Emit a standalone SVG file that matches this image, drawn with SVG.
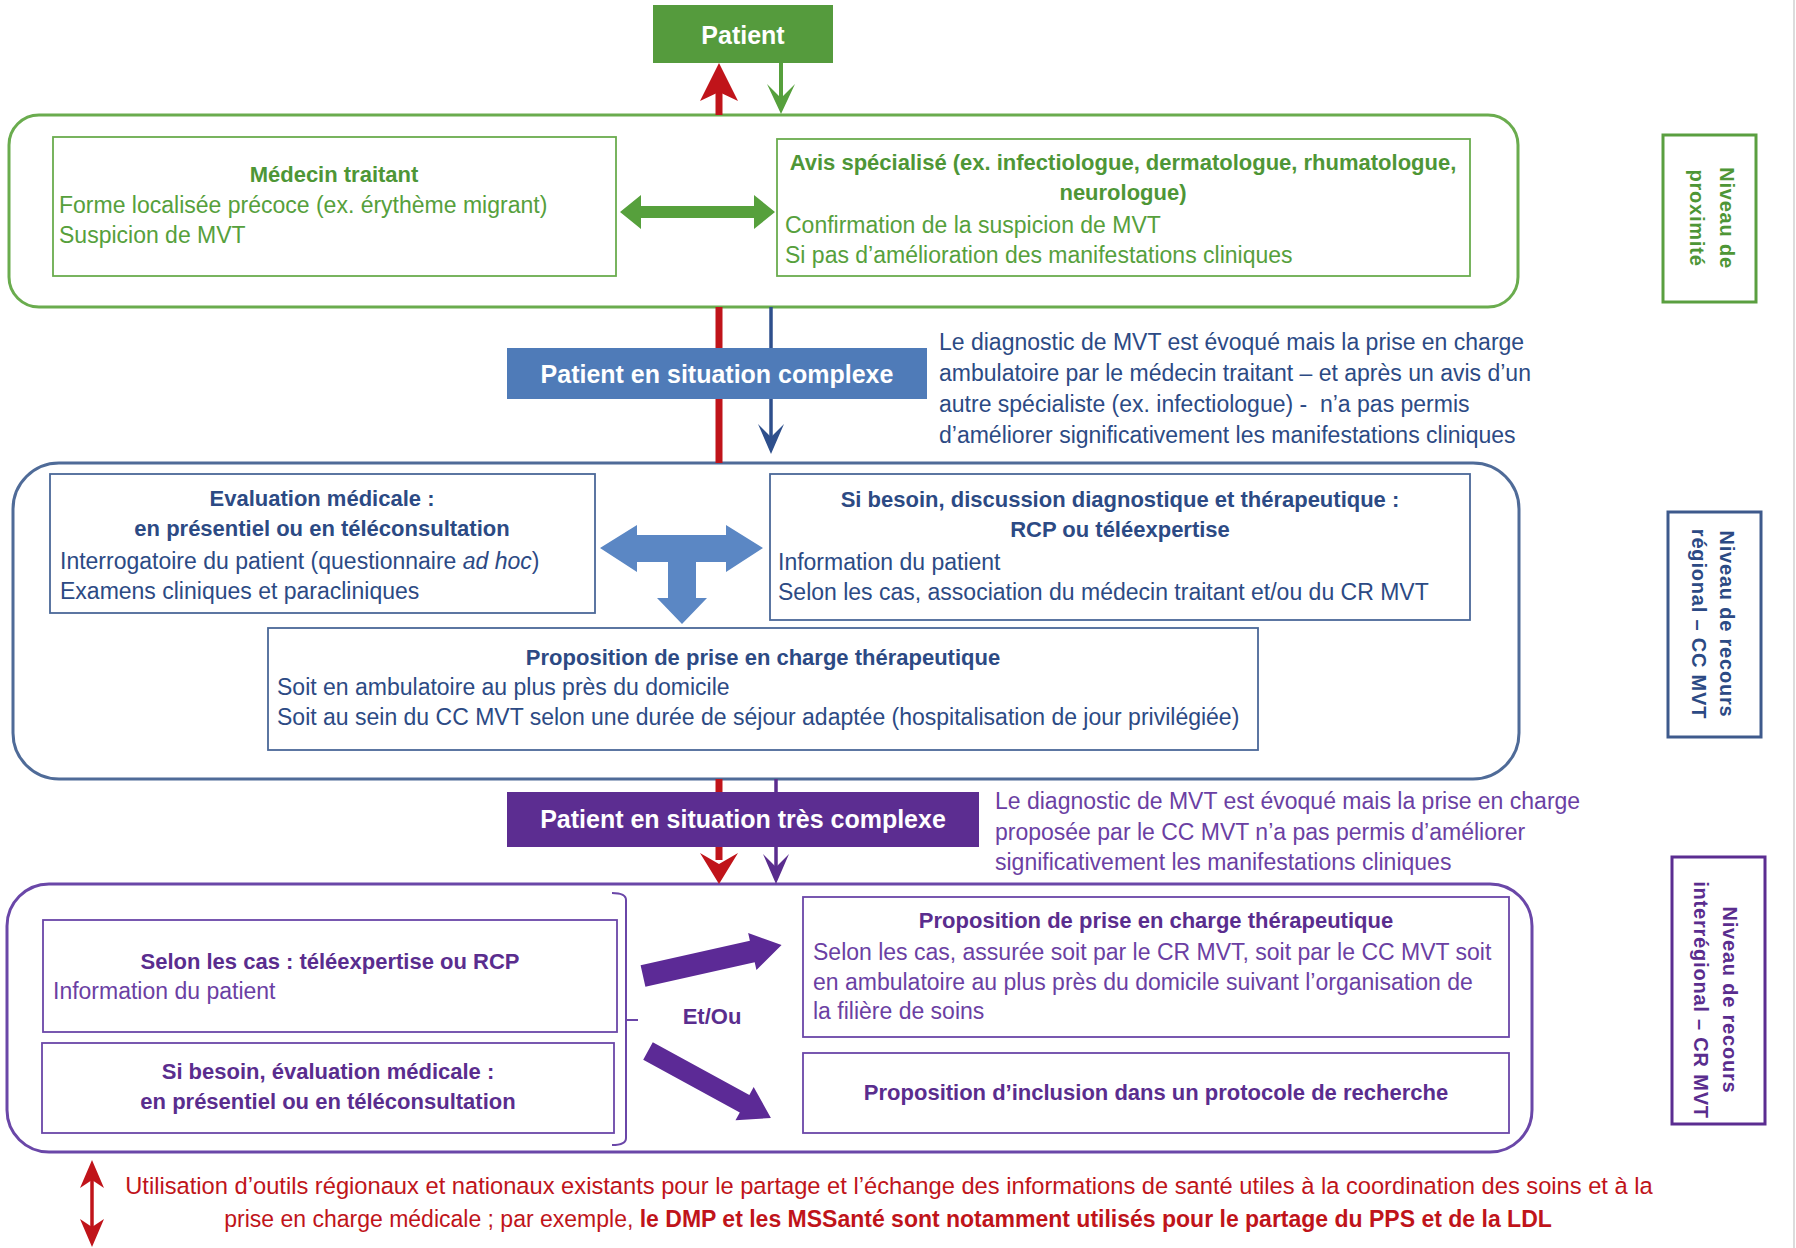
<svg xmlns="http://www.w3.org/2000/svg" width="1796" height="1248" viewBox="0 0 1796 1248">
<style>
text{font-family:"Liberation Sans",Arial,sans-serif}
.b{font-weight:bold}
.t22{font-size:22px}
.t23{font-size:23px}
.wt{font-size:25px;font-weight:bold;fill:#ffffff}
.g{fill:#56a03c}
.gb{fill:#4e9636}
.bl{fill:#2c4a84}
.pu{fill:#6b3fa3}
.pub{fill:#5a2d8e}
.rd{fill:#c0141a}
.mid{text-anchor:middle}
.gbox{fill:#ffffff;stroke:#6aac4e;stroke-width:1.8}
.bbox{fill:#ffffff;stroke:#4b6898;stroke-width:1.8}
.pbox{fill:#ffffff;stroke:#6a46a8;stroke-width:1.8}
.niv{font-size:20px;font-weight:bold;letter-spacing:0.8px}
</style>
<rect x="0" y="0" width="1796" height="1248" fill="#ffffff"/>
<line x1="1794" y1="0" x2="1794" y2="1248" stroke="#d0d0d0" stroke-width="1.5"/>

<!-- outer level frames -->
<g id="level-proximite">
<rect x="9" y="115" width="1509" height="192" rx="30" fill="#ffffff" stroke="#6aac4e" stroke-width="3"/>
</g>
<g id="level-regional">
<rect x="13" y="463" width="1506" height="316" rx="46" fill="#ffffff" stroke="#4f6b98" stroke-width="3"/>
</g>
<g id="level-interregional">
<rect x="7" y="884" width="1525" height="268" rx="42" fill="#ffffff" stroke="#6a47a8" stroke-width="3"/>
</g>

<!-- connectors -->
<g id="connectors">
<!-- red coordination line -->
<line x1="719" y1="115" x2="719" y2="92" stroke="#c0141a" stroke-width="7"/>
<polygon points="719,63 738,101 719,92 700,101" fill="#c0141a"/>
<line x1="719" y1="307" x2="719" y2="463" stroke="#c0141a" stroke-width="7"/>
<line x1="719" y1="779" x2="719" y2="860" stroke="#c0141a" stroke-width="7"/>
<polygon points="719,884 700,853 719,864 738,853" fill="#c0141a"/>
<!-- green arrow patient -> level 1 -->
<line x1="781" y1="63" x2="781" y2="100" stroke="#56a03c" stroke-width="4"/>
<polygon points="781,114 795,84 781,98 767,84" fill="#56a03c"/>
<!-- blue arrow -->
<line x1="771" y1="307" x2="771" y2="440" stroke="#2e4f8c" stroke-width="3.5"/>
<polygon points="771,454 784,424 771,437 758,424" fill="#2e4f8c"/>
<!-- purple arrow -->
<line x1="776" y1="779" x2="776" y2="868" stroke="#5a2d8e" stroke-width="3.5"/>
<polygon points="776,884 789,854 776,867 763,854" fill="#5a2d8e"/>
<!-- green double arrow -->
<polygon points="620,212 641,195 641,206 754,206 754,195 775,212 754,229 754,218 641,218 641,229" fill="#56a03c"/>
<!-- blue T arrow -->
<polygon points="600,548 637,525 637,535 726,535 726,525 763,548 726,572 726,562 696,562 696,598 707,598 682,624 657,598 668,598 668,562 637,562 637,572" fill="#5b87c4"/>
<!-- purple block arrows -->
<polygon transform="translate(643,976) rotate(-12.6)" points="0,-11 112,-11 112,-19 142,0 112,19 112,11 0,11" fill="#5c2a96"/>
<polygon transform="translate(648,1051) rotate(28.6)" points="0,-10 110,-10 110,-19 140,0 110,19 110,10 0,10" fill="#5c2a96"/>
<!-- bracket -->
<path d="M612,893 Q626,893 626,900 L626,1138 Q626,1145 612,1145 M626,1020 L638,1020" fill="none" stroke="#6a46a8" stroke-width="2"/>
<!-- bottom red double arrow -->
<line x1="92" y1="1178" x2="92" y2="1230" stroke="#c0141a" stroke-width="3.5"/>
<polygon points="92,1160 104,1188 92,1180 80,1188" fill="#c0141a"/>
<polygon points="92,1247 104,1219 92,1227 80,1219" fill="#c0141a"/>
</g>

<!-- Patient -->
<g id="patient">
<rect x="653" y="5" width="180" height="58" fill="#559b3d"/>
<text x="743" y="44" class="wt mid">Patient</text>
</g>

<!-- Level 1 nodes -->
<g id="medecin-traitant">
<rect x="53" y="137" width="563" height="139" class="gbox"/>
<text x="334" y="182" class="t22 b gb mid">Médecin traitant</text>
<text x="59" y="213" class="t23 g">Forme localisée précoce (ex. érythème migrant)</text>
<text x="59" y="243" class="t23 g">Suspicion de MVT</text>
</g>
<g id="avis-specialise">
<rect x="777" y="139" width="693" height="137" class="gbox"/>
<text x="1123" y="170" class="t22 b gb mid">Avis spécialisé (ex. infectiologue, dermatologue, rhumatologue,</text>
<text x="1123" y="200" class="t22 b gb mid">neurologue)</text>
<text x="785" y="233" class="t23 g">Confirmation de la suspicion de MVT</text>
<text x="785" y="263" class="t23 g">Si pas d’amélioration des manifestations cliniques</text>
</g>
<g id="niveau-proximite">
<rect x="1663" y="135" width="93" height="167" fill="#ffffff" stroke="#5a9f40" stroke-width="3"/>
<g transform="translate(1712,218) rotate(90)">
<text x="0" y="-8" class="niv gb mid">Niveau de</text>
<text x="0" y="22" class="niv gb mid">proximité</text>
</g>
</g>

<!-- complex situation -->
<g id="patient-complexe">
<rect x="507" y="348" width="420" height="51" fill="#4f7bb8"/>
<text x="717" y="383" class="wt mid">Patient en situation complexe</text>
</g>
<g id="note-complexe">
<text x="939" y="350" class="t23 bl">Le diagnostic de MVT est évoqué mais la prise en charge</text>
<text x="939" y="381" class="t23 bl">ambulatoire par le médecin traitant – et après un avis d’un</text>
<text x="939" y="412" class="t23 bl">autre spécialiste (ex. infectiologue) - &#160;n’a pas permis</text>
<text x="939" y="443" class="t23 bl">d’améliorer significativement les manifestations cliniques</text>
</g>

<!-- Level 2 nodes -->
<g id="evaluation-medicale">
<rect x="50" y="474" width="545" height="139" class="bbox"/>
<text x="322" y="506" class="t22 b bl mid">Evaluation médicale :</text>
<text x="322" y="536" class="t22 b bl mid">en présentiel ou en téléconsultation</text>
<text x="60" y="569" class="t23 bl">Interrogatoire du patient (questionnaire <tspan font-style="italic">ad hoc</tspan>)</text>
<text x="60" y="599" class="t23 bl">Examens cliniques et paracliniques</text>
</g>
<g id="discussion-rcp">
<rect x="770" y="474" width="700" height="146" class="bbox"/>
<text x="1120" y="507" class="t22 b bl mid">Si besoin, discussion diagnostique et thérapeutique :</text>
<text x="1120" y="537" class="t22 b bl mid">RCP ou téléexpertise</text>
<text x="778" y="570" class="t23 bl">Information du patient</text>
<text x="778" y="600" class="t23 bl">Selon les cas, association du médecin traitant et/ou du CR MVT</text>
</g>
<g id="proposition-cc">
<rect x="268" y="628" width="990" height="122" class="bbox"/>
<text x="763" y="665" class="t22 b bl mid">Proposition de prise en charge thérapeutique</text>
<text x="277" y="695" class="t23 bl">Soit en ambulatoire au plus près du domicile</text>
<text x="277" y="725" class="t23 bl">Soit au sein du CC MVT selon une durée de séjour adaptée (hospitalisation de jour privilégiée)</text>
</g>
<g id="niveau-regional">
<rect x="1668" y="512" width="93" height="225" fill="#ffffff" stroke="#3e5a8c" stroke-width="3"/>
<g transform="translate(1713,624) rotate(90)">
<text x="0" y="-7" class="niv bl mid">Niveau de recours</text>
<text x="0" y="21" class="niv bl mid">régional – CC MVT</text>
</g>
</g>

<!-- very complex -->
<g id="patient-tres-complexe">
<rect x="507" y="792" width="472" height="55" fill="#5c2d91"/>
<text x="743" y="828" class="wt mid">Patient en situation très complexe</text>
</g>
<g id="note-tres-complexe">
<text x="995" y="809" class="t23 pu">Le diagnostic de MVT est évoqué mais la prise en charge</text>
<text x="995" y="840" class="t23 pu">proposée par le CC MVT n’a pas permis d’améliorer</text>
<text x="995" y="870" class="t23 pu">significativement les manifestations cliniques</text>
</g>

<!-- Level 3 nodes -->
<g id="teleexpertise-rcp">
<rect x="43" y="920" width="574" height="112" class="pbox"/>
<text x="330" y="969" class="t22 b pub mid">Selon les cas : téléexpertise ou RCP</text>
<text x="53" y="999" class="t23 pu">Information du patient</text>
</g>
<g id="evaluation-cr">
<rect x="42" y="1043" width="572" height="90" class="pbox"/>
<text x="328" y="1079" class="t22 b pub mid">Si besoin, évaluation médicale :</text>
<text x="328" y="1109" class="t22 b pub mid">en présentiel ou en téléconsultation</text>
</g>
<g id="et-ou">
<text x="712" y="1024" class="t22 b pub mid">Et/Ou</text>
</g>
<g id="proposition-cr">
<rect x="803" y="897" width="706" height="140" class="pbox"/>
<text x="1156" y="928" class="t22 b pub mid">Proposition de prise en charge thérapeutique</text>
<text x="813" y="960" class="t23 pu">Selon les cas, assurée soit par le CR MVT, soit par le CC MVT soit</text>
<text x="813" y="990" class="t23 pu">en ambulatoire au plus près du domicile suivant l’organisation de</text>
<text x="813" y="1019" class="t23 pu">la filière de soins</text>
</g>
<g id="protocole-recherche">
<rect x="803" y="1053" width="706" height="80" class="pbox"/>
<text x="1156" y="1100" class="t22 b pub mid">Proposition d’inclusion dans un protocole de recherche</text>
</g>
<g id="niveau-interregional">
<rect x="1672" y="857" width="93" height="267" fill="#ffffff" stroke="#5b2d91" stroke-width="3"/>
<g transform="translate(1715,1000) rotate(90)">
<text x="0" y="-8" class="niv pub mid">Niveau de recours</text>
<text x="0" y="21" class="niv pub mid">interrégional – CR MVT</text>
</g>
</g>

<!-- bottom note -->
<g id="note-outils">
<text x="889" y="1194" class="rd mid" font-size="23.7">Utilisation d’outils régionaux et nationaux existants pour le partage et l’échange des informations de santé utiles à la coordination des soins et à la</text>
<text x="888" y="1227" class="rd mid" font-size="23">prise en charge médicale ; par exemple, <tspan font-weight="bold">le DMP et les MSSanté sont notamment utilisés pour le partage du PPS et de la LDL</tspan></text>
</g>
</svg>
